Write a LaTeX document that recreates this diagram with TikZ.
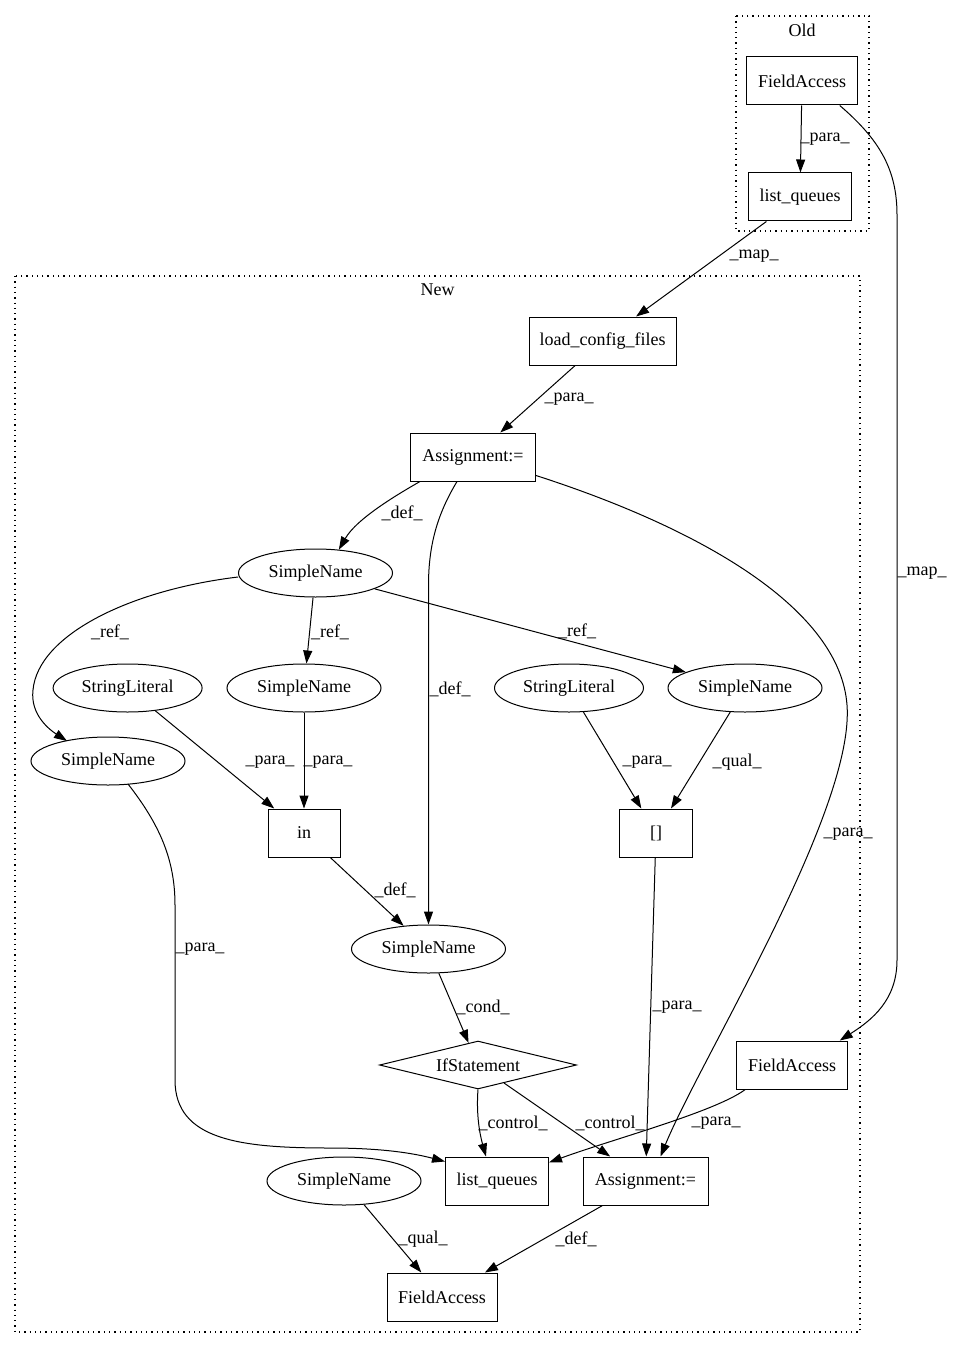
\documentclass[tikz,border=0pt]{standalone}
\usepackage{fontspec}
\setmainfont{Liberation Serif}
\usetikzlibrary{shapes.geometric,arrows.meta,calc}
\begin{document}
\begin{tikzpicture}[x=1pt,y=-1pt,
  every node/.style={font=\fontsize{18}{20}\selectfont},
  gbox/.style={draw,rectangle,inner sep=0pt,minimum height=48pt,line width=1pt},
  gell/.style={draw,ellipse,inner sep=0pt,minimum height=48pt,minimum width=154pt,line width=1pt},
  gdia/.style={draw,diamond,aspect=4.1,inner sep=0pt,minimum height=48pt,minimum width=197pt,line width=1pt},
  glab/.style={inner sep=0pt},
  garr/.style={line width=1pt,-{Triangle[length=13pt,width=9pt]}},
  gclu/.style={line width=1.1pt,dash pattern=on 1.3pt off 4pt}]
\useasboundingbox (0,0) rectangle (953,1348);
% clusters
\draw[gclu] (736,16) rectangle (869,231);
\draw[gclu] (15,276) rectangle (860,1332);
\node[glab] (oldlab) at (802,30) {Old};
\node[glab] (newlab) at (437.7,290) {New};
% nodes
\node[gbox,minimum width=110.5pt] (fao) at (802,81) {FieldAccess};
\node[gbox,minimum width=103pt] (lqo) at (800,197) {list\_queues};
\node[gbox,minimum width=147pt] (lcf) at (602.5,341) {load\_config\_files};
\node[gbox,minimum width=125pt] (a1) at (473,457) {Assignment:=};
\node[gell] (sn1) at (315.5,573) {SimpleName};
\node[gell,minimum width=149pt] (sl1) at (127.6,688) {StringLiteral};
\node[gell] (sn2) at (304,688) {SimpleName};
\node[gell,minimum width=149pt] (sl2) at (569,688) {StringLiteral};
\node[gell] (snr) at (745,688) {SimpleName};
\node[gell] (sn3) at (108,761) {SimpleName};
\node[gbox,minimum width=72pt] (in) at (304,833) {in};
\node[gbox,minimum width=73pt] (br) at (656,833) {[]};
\node[gell] (sn4) at (428.5,949) {SimpleName};
\node[gdia] (if) at (478,1065) {IfStatement};
\node[gbox,minimum width=110.5pt] (fan) at (792,1065) {FieldAccess};
\node[gbox,minimum width=103pt] (lq2) at (497,1181) {list\_queues};
\node[gbox,minimum width=125pt] (a2) at (645.5,1181) {Assignment:=};
\node[gell] (sn5) at (344,1181) {SimpleName};
\node[gbox,minimum width=110pt] (fab) at (442,1297) {FieldAccess};
% edges
\draw[garr] (fao) -- (lqo);
\draw[garr] ($(fao.south east)+(-18,0)$) .. controls (880,140) and (897,170) .. (897,215) -- (897,960) .. controls (897,1000) and (872,1020) .. ($(fan.north east)+(-8,0)$);
\draw[garr] (lqo) -- (lcf);
\draw[garr] (lcf) -- (a1);
\draw[garr] ($(a1.south)+(-53,0)$) .. controls (400,493) and (357,518) .. (sn1.45);
\draw[garr] ($(a1.south)+(-16,0)$) .. controls (440,510) and (428.5,540) .. (428.5,585) -- (sn4.north);
\draw[garr] ($(a1.south east)+(0,-6)$) .. controls (705,530) and (840,610) .. (847,705) .. controls (855,810) and (700,1060) .. ($(a2.north)+(15,0)$);
\draw[garr] ($(sn1.west)+(0,4)$) .. controls (130,590) and (38,635) .. (33,690) .. controls (30,715) and (50,730) .. ($(sn3.center)+(-41,-20)$);
\draw[garr] (sn1) -- (sn2);
\draw[garr] (sn1) -- (snr);
\draw[garr] (sl1) -- (in);
\draw[garr] (sn2) -- (in);
\draw[garr] (sl2) -- (br);
\draw[garr] (snr) -- (br);
\draw[garr] ($(sn3.center)+(20,23)$) .. controls (160,825) and (175,860) .. (175,905) -- (175,1080) .. controls (175,1140) and (240,1148) .. (330,1148) .. controls (390,1148) and (420,1155) .. ($(lq2.north west)+(0,5)$);
\draw[garr] (in) -- (sn4);
\draw[garr] (br) -- (a2);
\draw[garr] (sn4) -- (if);
\draw[garr] (if.south) .. controls (476,1115) and (480,1135) .. ($(lq2.north)+(-11,0)$);
\draw[garr] (if) -- (a2);
\draw[garr] ($(fan.south west)+(9,0)$) .. controls (715,1112) and (610,1140) .. ($(lq2.north east)+(0,6)$);
\draw[garr] (a2) -- (fab);
\draw[garr] (sn5) -- (fab);
% edge labels
\node[glab] (l1) at (825,139) {\_para\_};
\node[glab] (l2) at (922,573) {\_map\_};
\node[glab] (l3) at (754,256) {\_map\_};
\node[glab] (l4) at (569,399) {\_para\_};
\node[glab] (l5) at (402,513) {\_def\_};
\node[glab] (l6) at (450,689) {\_def\_};
\node[glab] (l7) at (848,834) {\_para\_};
\node[glab] (l8) at (110,632) {\_ref\_};
\node[glab] (l9) at (330,632) {\_ref\_};
\node[glab] (l10) at (577,631) {\_ref\_};
\node[glab] (l11) at (270,762) {\_para\_};
\node[glab] (l12) at (328,762) {\_para\_};
\node[glab] (l13) at (647,762) {\_para\_};
\node[glab] (l14) at (737,762) {\_qual\_};
\node[glab] (l15) at (200,949) {\_para\_};
\node[glab] (l16) at (395,890) {\_def\_};
\node[glab] (l17) at (677,1007) {\_para\_};
\node[glab] (l18) at (483,1007) {\_cond\_};
\node[glab] (l19) at (513,1123) {\_control\_};
\node[glab] (l20) at (610,1123) {\_control\_};
\node[glab] (l21) at (716,1123) {\_para\_};
\node[glab] (l22) at (576,1239) {\_def\_};
\node[glab] (l23) at (423,1239) {\_qual\_};
\end{tikzpicture}
\end{document}
